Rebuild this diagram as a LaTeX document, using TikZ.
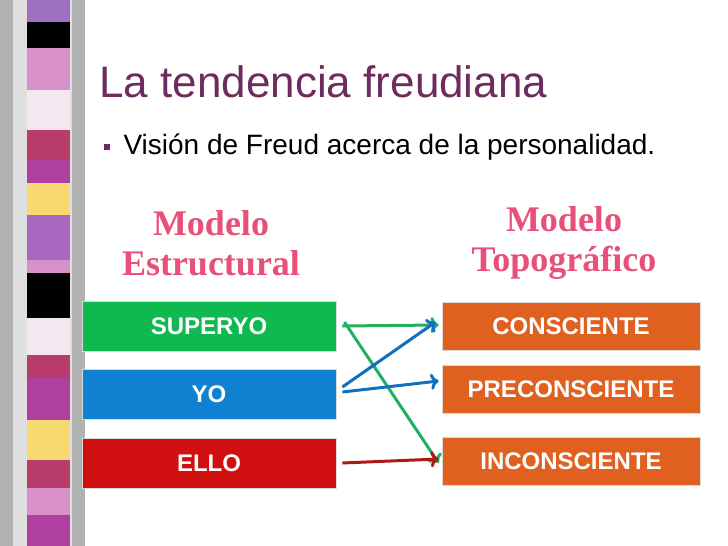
\documentclass[tikz,border=0pt]{standalone}
\usepackage{fontspec}
\setmainfont{Liberation Sans}
\newfontfamily\headfont{Liberation Serif}
\usetikzlibrary{positioning,arrows.meta}
\definecolor{titlepurple}{HTML}{6E2B5E}
\definecolor{boxgreen}{HTML}{10B850}
\definecolor{boxblue}{HTML}{1080D0}
\definecolor{boxred}{HTML}{D01010}
\definecolor{boxorange}{HTML}{E06020}
\definecolor{headpink}{HTML}{E8507A}
\definecolor{arrgreen}{HTML}{20B060}
\definecolor{arrblue}{HTML}{1070C0}
\definecolor{arrred}{HTML}{B01818}
\tikzset{
  box/.style={draw=white!70!gray, line width=0.8pt, minimum width=254pt, minimum height=50pt,
    text=white, font=\bfseries\fontsize{24}{24}\selectfont, inner sep=0pt},
  rbox/.style={box, minimum width=258pt, minimum height=48pt},
  head/.style={font=\headfont\bfseries\fontsize{36}{40}\selectfont, text=headpink, align=center},
  link/.style={line width=3pt, -{To[length=8pt,width=16pt]}},
}
\begin{document}
\begin{tikzpicture}[x=1pt,y=-1pt]
\useasboundingbox (0,0) rectangle (728,546);
\fill[white] (0,0) rectangle (728,546);

% Stripe
\fill[gray!60] (0,0) rectangle (85,546);
\fill[gray!25] (13,0) rectangle (72,546);
\foreach \ya/\yb/\col in {0/22/A070C0, 22/48/000000, 48/90/D890C8, 90/130/F4E8F0,
  130/160/B83C6C, 160/183/B040A0, 183/215/F8D870, 215/260/A868C0, 260/273/D890C8,
  273/318/000000, 318/355/F4E8F0, 355/378/B83C6C, 378/420/B040A0, 420/460/F8D870,
  460/488/B83C6C, 488/515/D890C8, 515/546/B040A0}{
  \definecolor{bandcol}{HTML}{\col}
  \fill[bandcol] (27,\ya) rectangle (70,\yb);
}

% Texts
\node[anchor=west, text=titlepurple, font=\fontsize{44}{44}\selectfont] (title) at (96,82) {La tendencia freudiana};
\fill[titlepurple] (104,144) rectangle (110,150);
\node[anchor=west, font=\fontsize{28}{28}\selectfont] (bullet) at (120,147) {Visión de Freud acerca de la personalidad.};
\node[head] (hleft) at (211,243) {Modelo\\Estructural};
\node[head] (hright) at (564,243) {Modelo\\Topográfico};

% Boxes
\node[box, fill=boxgreen] (superyo) at (209,326) {SUPERYO};
\node[box, fill=boxblue] (yo) at (209,394) {YO};
\node[box, fill=boxred] (ello) at (209,463) {ELLO};
\node[rbox, fill=boxorange] (consc) at (571,326) {CONSCIENTE};
\node[rbox, fill=boxorange] (precon) at (571,389) {PRECONSCIENTE};
\node[rbox, fill=boxorange] (incon) at (571,461) {INCONSCIENTE};

% Links
\draw[link, arrgreen] ([xshift=6pt]superyo.east) -- ([xshift=-3pt,yshift=1pt]consc.west);
\draw[link, arrgreen] ([xshift=8pt,yshift=4pt]superyo.east) -- ([xshift=-3pt,yshift=-2pt]incon.west);
\draw[link, arrblue] ([xshift=6pt,yshift=7pt]yo.east) -- ([xshift=-6pt,yshift=4pt]consc.west);
\draw[link, arrblue] ([xshift=6pt,yshift=2pt]yo.east) -- ([xshift=-3pt,yshift=8pt]precon.west);
\draw[link, arrred] ([xshift=6pt]ello.east) -- ([xshift=-3pt,yshift=2pt]incon.west);
\end{tikzpicture}
\end{document}
